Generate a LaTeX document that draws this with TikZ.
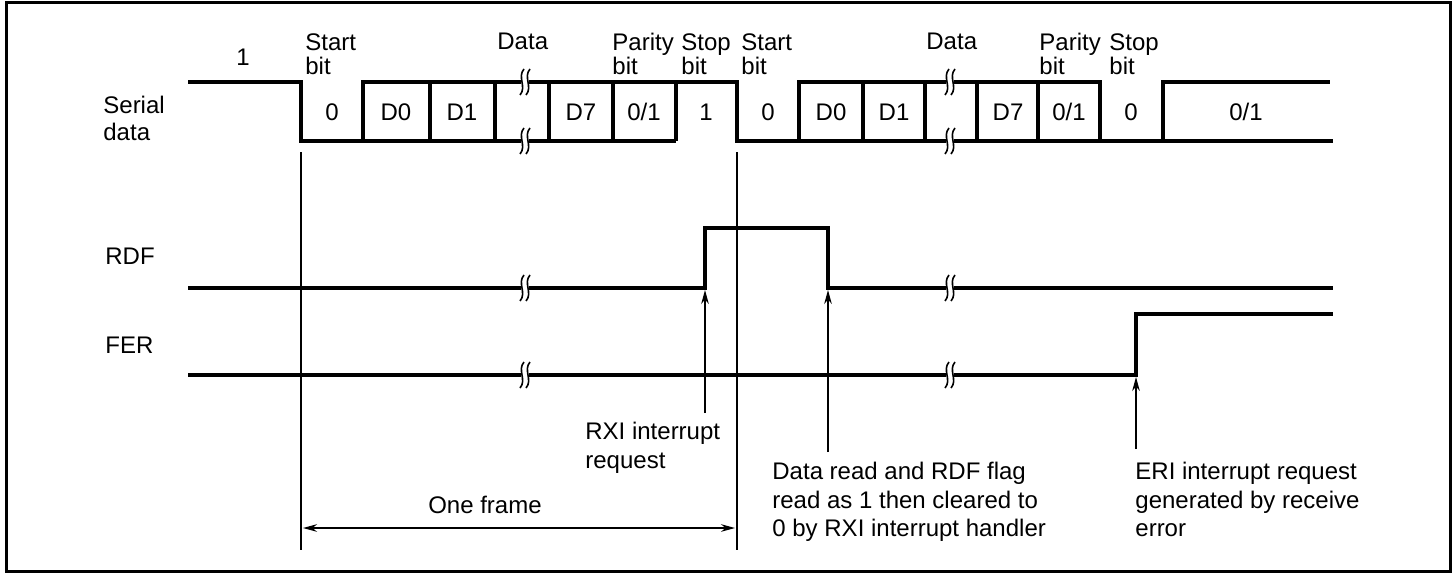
\documentclass[tikz,border=0pt]{standalone}
\usepackage{fontspec}
\setmainfont{Liberation Sans}
\usetikzlibrary{arrows.meta}
\tikzset{
  sig/.style={line width=1.65pt, line join=miter},
  guide/.style={line width=0.85pt},
  lbl/.style={inner sep=0pt, font=\fontsize{12}{13.5}\selectfont},
  note/.style={lbl, align=left, anchor=north west, font=\fontsize{12}{14.3}\selectfont},
  head/.style={lbl, align=left, anchor=north west, font=\fontsize{12}{12}\selectfont},
}
% break mark on a waveform at (x,y)
\newcommand\brkmark[2]{%
  \fill[white] (#1-4,#2-3) rectangle (#1+4,#2+3);
  \draw[line width=0.8pt] (#1-1,#2-13) .. controls (#1-8,#2-5) and (#1+2,#2+5) .. (#1-5,#2+13);
  \draw[line width=0.8pt] (#1+5,#2-13) .. controls (#1-2,#2-5) and (#1+8,#2+5) .. (#1+1,#2+13);
}
\begin{document}
\begin{tikzpicture}[x=0.5pt, y=-0.5pt, >={Stealth[length=7pt,width=3.8pt]}]
\useasboundingbox (0,0) rectangle (1455,573);
\draw[line width=1.5pt] (6.5,2.5) rectangle (1450,571.5);
% signal names
\node[lbl, align=left, anchor=north west] (ser) at (103,96) {Serial\\data};
\node[lbl, anchor=base west] (rdf) at (105,264) {RDF};
\node[lbl, anchor=base west] (fer) at (105,353) {FER};
% serial data
\draw[sig] (188,82) -- (301,82) -- (301,141) -- (676,141);
\draw[sig] (363,141) -- (363,82) -- (737,82) -- (737,141) -- (1333,141);
\draw[sig] (799,141) -- (799,82) -- (1100,82) -- (1100,141);
\draw[sig] (1163,141) -- (1163,82) -- (1330,82);
\foreach \x in {430,495,549,613,676,863,925,977,1038}
  \draw[sig] (\x,82) -- (\x,141);
\foreach \x/\t [count=\i] in {332/0,396/D0,462/D1,581/D7,644/{0/1},706/1,768/0,831/D0,894/D1,1008/D7,1069/{0/1},1131/0,1246/{0/1}}
  \node[lbl] (c\i) at (\x,112) {\t};
% flags
\draw[sig] (188,288) -- (705,288) -- (705,228) -- (828,228) -- (828,288) -- (1333,288);
\draw[sig] (188,375) -- (1136,375) -- (1136,314) -- (1333,314);
\foreach \x in {525,950}{
  \brkmark{\x}{82} \brkmark{\x}{141} \brkmark{\x}{288} \brkmark{\x}{375}
}
% bit names
\node[lbl, anchor=base] (one) at (243,65) {1};
\node[head] (st1) at (305,33) {Start\\bit};
\node[head] (dt1) at (497,33) {Data};
\node[head] (pa1) at (612,33) {Parity\\bit};
\node[head] (sp1) at (681,33) {Stop\\bit};
\node[head] (st2) at (741,33) {Start\\bit};
\node[head] (dt2) at (926,33) {Data};
\node[head] (pa2) at (1039,33) {Parity\\bit};
\node[head] (sp2) at (1109,33) {Stop\\bit};
% frame
\draw[guide] (301,152) -- (301,550);
\draw[guide] (737,152) -- (737,550);
\coordinate (fl) at (303,528);
\coordinate (fr) at (735,528);
\draw[guide,<->] (fl) -- (fr);
\node[lbl, anchor=base] (frm) at (485,513) {One frame};
% interrupts
\node[note] (rxi) at (585,422) {RXI interrupt\\request};
\node[note] (rd) at (772,462) {Data read and RDF flag\\read as 1 then cleared to\\0 by RXI interrupt handler};
\node[note] (eri) at (1135,462) {ERI interrupt request\\generated by receive\\error};
\coordinate (rxit) at (705,290);
\coordinate (rxib) at (705,413);
\coordinate (rdt) at (828,290);
\coordinate (rdb) at (828,452);
\coordinate (erit) at (1136,377);
\coordinate (erib) at (1136,449);
\draw[guide,->] (rxib) -- (rxit);
\draw[guide,->] (rdb) -- (rdt);
\draw[guide,->] (erib) -- (erit);
\end{tikzpicture}
\end{document}
